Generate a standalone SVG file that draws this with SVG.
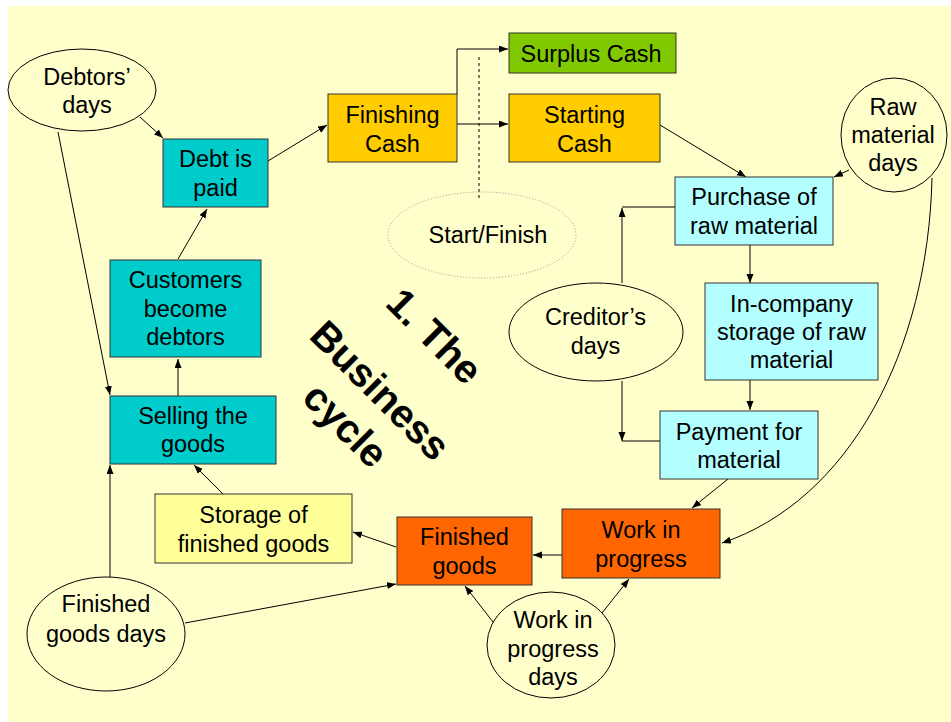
<svg xmlns="http://www.w3.org/2000/svg" width="951" height="722" viewBox="0 0 951 722">
  <style>
    .lbl { font-family: "Liberation Sans", Arial, sans-serif; font-size: 23.5px; fill: #000; text-anchor: middle; }
    .title { font-family: "Liberation Sans", Arial, sans-serif; font-size: 40px; font-weight: bold; fill: #000; text-anchor: middle; }
    .box { stroke: #333; stroke-width: 1; }
    .teal { fill: #00CCCC; }
    .gold { fill: #FFCC00; }
    .green { fill: #80C800; }
    .cyan { fill: #B3FFFF; }
    .orange { fill: #FF6600; }
    .pale { fill: #FFFF99; }
    .oval { fill: #FFFFCC; stroke: #000; stroke-width: 1; }
    .link { fill: none; stroke: #000; stroke-width: 1; }
    .arrow { marker-end: url(#head); }
  </style>
  <defs>
    <marker id="head" markerUnits="userSpaceOnUse" markerWidth="10" markerHeight="8" refX="9" refY="3.5" orient="auto">
      <path d="M0,0 L9,3.5 L0,7 z" fill="#000"/>
    </marker>
  </defs>

  <!-- page -->
  <rect x="0" y="0" width="951" height="722" fill="#FFFFFF"/>
  <rect x="8" y="6" width="943" height="716" fill="#FFFFCC"/>

  <!-- connectors -->
  <g id="connectors">
    <path class="link arrow" d="M268,161 L327,125"/>
    <path class="link arrow" d="M457,94 V49 H508"/>
    <path class="link arrow" d="M457,124 H508"/>
    <path class="link" d="M479,57 V198" stroke-dasharray="3,3"/>
    <path class="link arrow" d="M660,125 L746,177"/>
    <path class="link arrow" d="M849,170 L834,177"/>
    <path class="link arrow" d="M932,178 C928,350 850,500 722,543"/>
    <path class="link" d="M675,207 H622"/>
    <path class="link arrow" d="M622,283 V208"/>
    <path class="link arrow" d="M622,381 V441"/>
    <path class="link" d="M622,441 H660"/>
    <path class="link arrow" d="M750,245 V283"/>
    <path class="link arrow" d="M750,380 V410"/>
    <path class="link arrow" d="M728,479 L692,508"/>
    <path class="link arrow" d="M562,555 H533"/>
    <path class="link arrow" d="M493,622 L465,586"/>
    <path class="link arrow" d="M602,613 L629,579"/>
    <path class="link arrow" d="M396,547 L353,532"/>
    <path class="link arrow" d="M223,494 L194,465"/>
    <path class="link arrow" d="M110,577 V465"/>
    <path class="link arrow" d="M185,623 L396,584"/>
    <path class="link arrow" d="M178,396 V359"/>
    <path class="link arrow" d="M178,259 L207,209"/>
    <path class="link arrow" d="M140,117 L163,138"/>
    <path class="link arrow" d="M58,132 L110,395"/>
  </g>

  <!-- nodes -->
  <g id="debtors-days">
    <ellipse class="oval" cx="82" cy="90" rx="74" ry="41"/>
    <text class="lbl" x="87" y="85">Debtors’</text>
    <text class="lbl" x="87" y="113">days</text>
  </g>

  <g id="debt-paid">
    <rect class="box teal" x="163" y="139" width="105" height="68"/>
    <text class="lbl" x="215.5" y="167">Debt is</text>
    <text class="lbl" x="215.5" y="196">paid</text>
  </g>

  <g id="finishing-cash">
    <rect class="box gold" x="328" y="94" width="129" height="68"/>
    <text class="lbl" x="392.5" y="123">Finishing</text>
    <text class="lbl" x="392.5" y="152">Cash</text>
  </g>

  <g id="surplus-cash">
    <rect class="box green" x="509" y="33" width="167" height="40"/>
    <text class="lbl" x="591" y="62">Surplus Cash</text>
  </g>

  <g id="starting-cash">
    <rect class="box gold" x="509" y="94" width="151" height="68"/>
    <text class="lbl" x="584.5" y="123">Starting</text>
    <text class="lbl" x="584.5" y="152">Cash</text>
  </g>

  <g id="start-finish">
    <ellipse cx="482" cy="235" rx="94" ry="43" fill="none" stroke="#999" stroke-width="1" stroke-dasharray="1,2"/>
    <text class="lbl" x="488" y="243">Start/Finish</text>
  </g>

  <g id="raw-material-days">
    <ellipse class="oval" cx="894" cy="135" rx="53" ry="57"/>
    <text class="lbl" x="893" y="115">Raw</text>
    <text class="lbl" x="893" y="143">material</text>
    <text class="lbl" x="893" y="171">days</text>
  </g>

  <g id="purchase">
    <rect class="box cyan" x="675" y="177" width="158" height="68"/>
    <text class="lbl" x="754" y="205">Purchase of</text>
    <text class="lbl" x="754" y="234">raw material</text>
  </g>

  <g id="creditors-days">
    <ellipse class="oval" cx="596" cy="332" rx="87" ry="49"/>
    <text class="lbl" x="595.5" y="325">Creditor’s</text>
    <text class="lbl" x="595.5" y="354">days</text>
  </g>

  <g id="in-company-storage">
    <rect class="box cyan" x="705" y="283" width="173" height="97"/>
    <text class="lbl" x="791.5" y="312">In-company</text>
    <text class="lbl" x="791.5" y="340">storage of raw</text>
    <text class="lbl" x="791.5" y="368">material</text>
  </g>

  <g id="payment">
    <rect class="box cyan" x="660" y="411" width="158" height="68"/>
    <text class="lbl" x="739" y="440">Payment for</text>
    <text class="lbl" x="739" y="468">material</text>
  </g>

  <g id="work-in-progress">
    <rect class="box orange" x="562" y="509" width="158" height="69"/>
    <text class="lbl" x="641" y="538">Work in</text>
    <text class="lbl" x="641" y="567">progress</text>
  </g>

  <g id="finished-goods">
    <rect class="box orange" x="397" y="517" width="135" height="68"/>
    <text class="lbl" x="464.5" y="545">Finished</text>
    <text class="lbl" x="464.5" y="574">goods</text>
  </g>

  <g id="wip-days">
    <ellipse class="oval" cx="551" cy="645" rx="64" ry="53"/>
    <text class="lbl" x="553" y="628">Work in</text>
    <text class="lbl" x="553" y="657">progress</text>
    <text class="lbl" x="553" y="685">days</text>
  </g>

  <g id="storage-finished">
    <rect class="box pale" x="155" y="494" width="197" height="69"/>
    <text class="lbl" x="253.5" y="523">Storage of</text>
    <text class="lbl" x="253.5" y="552">finished goods</text>
  </g>

  <g id="finished-goods-days">
    <ellipse class="oval" cx="106" cy="634" rx="79" ry="57"/>
    <text class="lbl" x="106" y="612">Finished</text>
    <text class="lbl" x="106" y="642">goods days</text>
  </g>

  <g id="selling">
    <rect class="box teal" x="110" y="396" width="166" height="68"/>
    <text class="lbl" x="193" y="424">Selling the</text>
    <text class="lbl" x="193" y="452">goods</text>
  </g>

  <g id="customers-debtors">
    <rect class="box teal" x="110" y="260" width="151" height="97"/>
    <text class="lbl" x="185.5" y="288">Customers</text>
    <text class="lbl" x="185.5" y="317">become</text>
    <text class="lbl" x="185.5" y="345">debtors</text>
  </g>

  <!-- rotated heading -->
  <g id="title" transform="rotate(45)">
    <text class="title" x="545" y="-56">1. The</text>
    <text class="title" x="545" y="21">Business</text>
    <text class="title" x="545" y="70">cycle</text>
  </g>
</svg>
